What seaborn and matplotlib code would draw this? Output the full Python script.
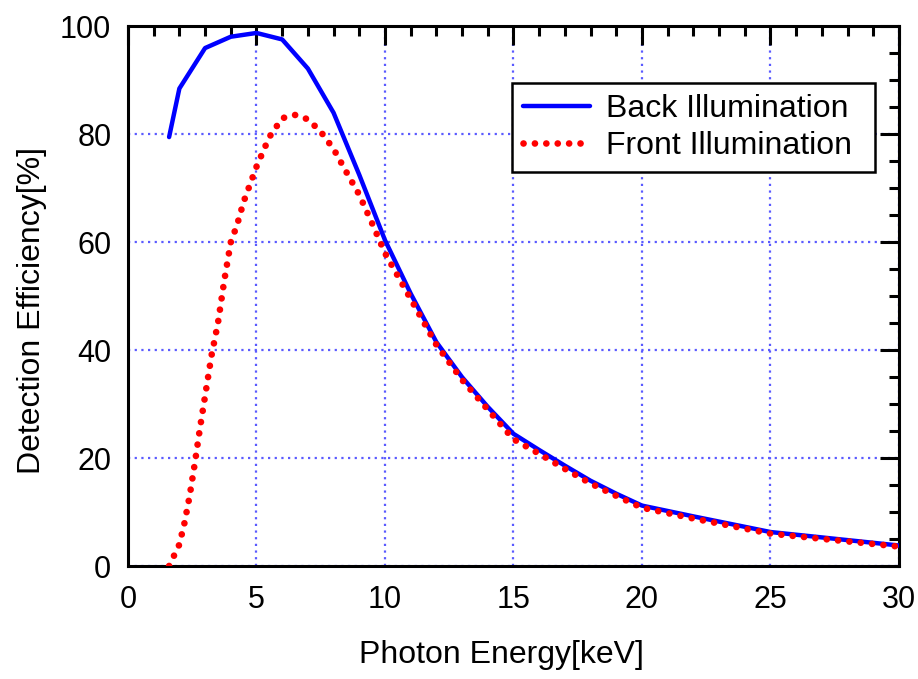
import numpy as np
import pandas as pd
import seaborn as sns
import matplotlib.pyplot as plt
import matplotlib.ticker as mticker

# Back illumination (solid blue)
back_energy = [1.6, 2, 3, 4, 5, 6, 7, 8, 9, 10, 11, 12, 13, 14, 15,
               16, 17, 18, 19, 20, 22, 25, 30]
back_eff = [79.5, 88.5, 96.0, 98.1, 98.8, 97.6, 92.2, 84.0, 72.5, 60.4, 50.5,
            41.5, 35.0, 29.5, 24.5, 21.5, 18.6, 15.8, 13.4, 11.2, 9.2, 6.3, 3.8]

# Front illumination (red dotted)
front_energy = [1.6, 1.8, 2.0, 2.2, 2.4, 2.6, 2.8, 3.0, 3.25, 3.5, 3.75, 4.0,
                4.25, 4.5, 5.0, 5.5, 6.0, 6.5, 7.0, 7.5, 8.0, 8.5, 9.0, 9.5,
                10, 11, 12, 13, 14, 15, 16, 17, 18, 19, 20, 22, 25, 30]
front_eff = [0.0, 2.0, 4.0, 8.0, 13.0, 19.0, 25.5, 31.5, 39.0, 45.0, 53.0, 60.0,
             63.3, 67.5, 74.0, 79.5, 83.0, 83.6, 82.8, 80.5, 77.3, 73.0, 68.8, 63.5,
             58.0, 49.5, 41.0, 34.5, 29.0, 23.5, 20.8, 18.0, 15.3, 13.0, 10.8, 8.8,
             6.0, 3.6]

df_back = pd.DataFrame({"energy": back_energy, "eff": back_eff})
df_front = pd.DataFrame({"energy": front_energy, "eff": front_eff})

sns.set_style("white")
plt.rcParams["font.family"] = ["Liberation Sans", "DejaVu Sans"]
plt.rcParams["text.color"] = "black"
plt.rcParams["axes.labelcolor"] = "black"
plt.rcParams["xtick.color"] = "black"
plt.rcParams["ytick.color"] = "black"

fig = plt.figure(figsize=(9.18, 6.79), dpi=100)
ax = fig.add_axes([0.1394, 0.1664, 0.8399, 0.7946])

sns.lineplot(data=df_back, x="energy", y="eff", ax=ax, color="#0000ff",
             lw=3.2, label="Back Illumination", zorder=3)
sns.lineplot(data=df_front, x="energy", y="eff", ax=ax, color="#ff0000",
             lw=4.8, linestyle=(0, (0.01, 1.7)), dash_capstyle="round",
             label="Front Illumination", zorder=4)

ax.set_xlim(0, 30)
ax.set_ylim(0, 100)
ax.xaxis.set_major_locator(mticker.MultipleLocator(5))
ax.xaxis.set_minor_locator(mticker.MultipleLocator(1))
ax.yaxis.set_major_locator(mticker.MultipleLocator(20))
ax.yaxis.set_minor_locator(mticker.MultipleLocator(5))

ax.grid(True, which="major", color="#5a5aff", linestyle=(0, (1, 2)), lw=1.6)
ax.tick_params(which="both", direction="in", top=True, right=True,
               width=2.2, color="black", labelsize=22)
ax.tick_params(axis="x", which="major", pad=14)
ax.tick_params(axis="y", which="major", pad=12)
ax.tick_params(which="major", length=14)
ax.tick_params(which="minor", length=7)
for s in ax.spines.values():
    s.set_linewidth(2.2)
    s.set_color("black")

ax.set_xlabel("Photon Energy[keV]", fontsize=23)
ax.set_ylabel("Detection Efficiency[%]", fontsize=23)
ax.xaxis.set_label_coords(0.484, -0.138)
ax.yaxis.set_label_coords(-0.105, 0.474)

leg = ax.legend(loc="upper left", bbox_to_anchor=(0.498, 0.895, 0.471, 0.0),
                mode="expand", fontsize=23, frameon=True, fancybox=False,
                handlelength=2.1, borderaxespad=0, borderpad=0.35,
                labelspacing=0.2, handletextpad=0.5)
leg.get_frame().set_edgecolor("black")
leg.get_frame().set_linewidth(1.8)
leg.get_frame().set_alpha(1)

fig.savefig("out.png", dpi=100)
